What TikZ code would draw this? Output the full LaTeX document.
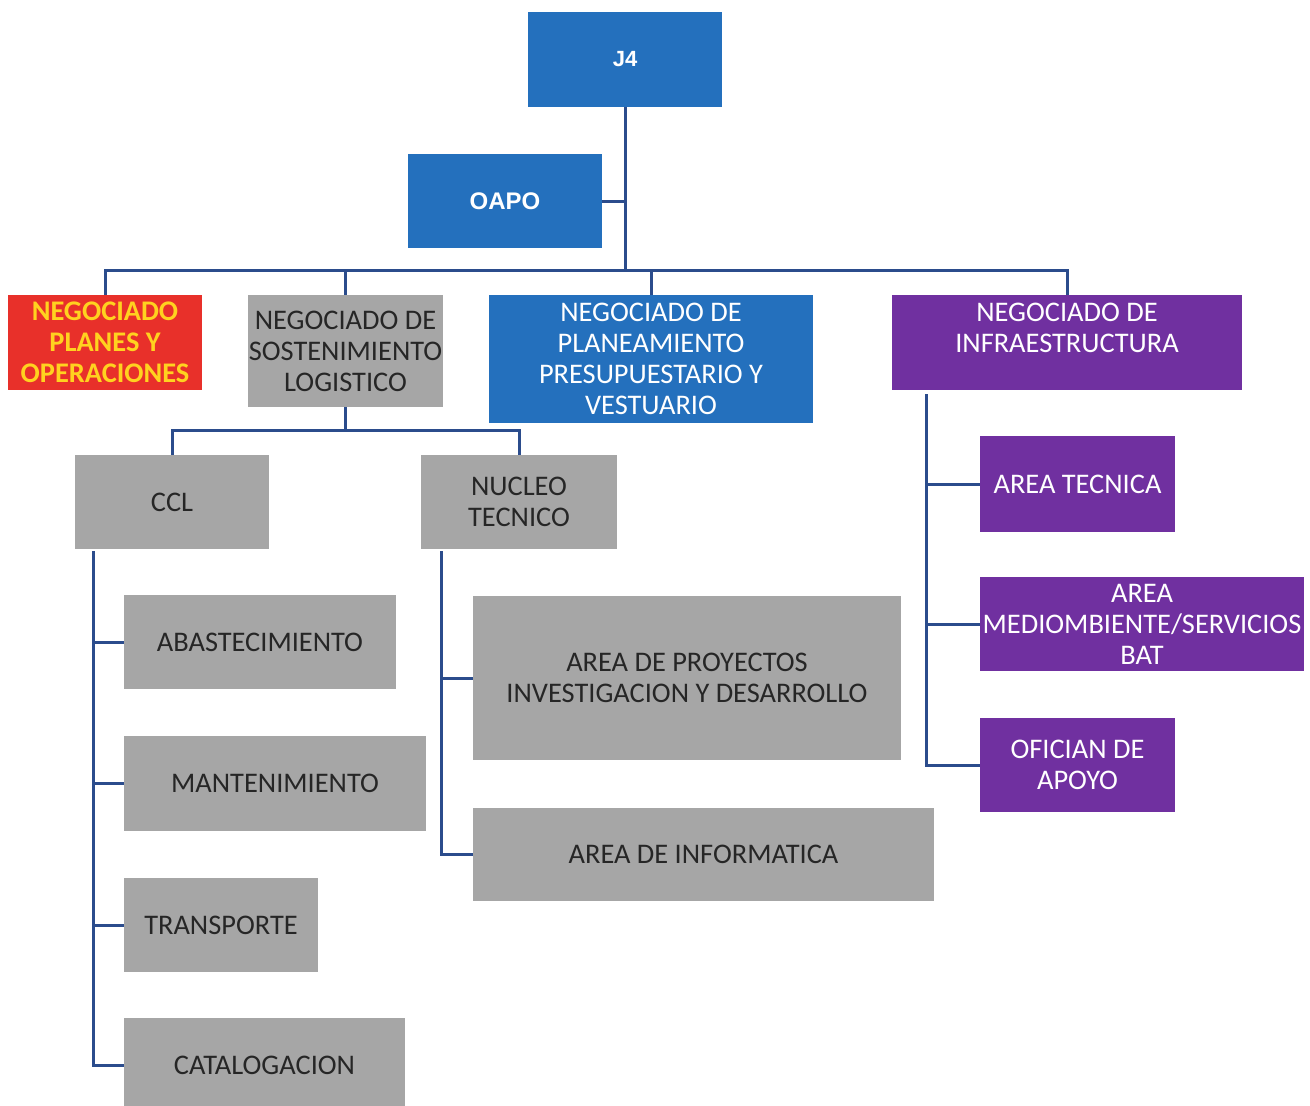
\documentclass[tikz,border=0pt]{standalone}
\usepackage{fontspec}
\setmainfont{Carlito}
\newfontfamily\arialfont{Liberation Sans}
\definecolor{obl}{HTML}{2470BD}
\definecolor{opu}{HTML}{7030A0}
\definecolor{ogr}{HTML}{A6A6A6}
\definecolor{ore}{HTML}{E8302A}
\definecolor{oye}{HTML}{FFD21F}
\definecolor{oln}{HTML}{2B4C8C}
\definecolor{otx}{HTML}{262626}
\tikzset{
  orgbox/.style={rectangle, inner sep=0pt, align=center, font=\fontsize{28.4}{31}\selectfont},
  bluebox/.style={orgbox, fill=obl, text=white},
  purplebox/.style={orgbox, fill=opu, text=white},
  graybox/.style={orgbox, fill=ogr, text=otx},
  redbox/.style={orgbox, fill=ore, text=oye, font=\fontsize{28.4}{31}\selectfont\bfseries},
  conn/.style={draw=oln, line width=3pt},
}
\begin{document}
\begin{tikzpicture}[x=1pt,y=-1pt]
\useasboundingbox (0,0) rectangle (1310,1106);
% top
\node[bluebox, minimum width=194pt, minimum height=95pt, font=\arialfont\bfseries\fontsize{22}{26}\selectfont] (j4) at (625,59.5) {J4};
\node[bluebox, minimum width=194pt, minimum height=94pt, font=\arialfont\bfseries\fontsize{24}{28}\selectfont] (oapo) at (505,201) {OAPO};
% level 2
\node[redbox, minimum width=194pt, minimum height=95pt] (npo) at (105,342.5) {NEGOCIADO\\PLANES Y\\OPERACIONES};
\node[graybox, minimum width=195pt, minimum height=112pt] (nsl) at (345.5,351) {NEGOCIADO DE\\SOSTENIMIENTO\\LOGISTICO};
\node[bluebox, minimum width=324pt, minimum height=128pt] (npp) at (651,359) {NEGOCIADO DE\\PLANEAMIENTO\\PRESUPUESTARIO Y\\VESTUARIO};
\node[purplebox, minimum width=350pt, minimum height=95pt] (ni) at (1067,342.5) {};
\node[orgbox, text=white] (nilabel) at (1067,327.5) {NEGOCIADO DE\\INFRAESTRUCTURA};
% level 3
\node[graybox, minimum width=194pt, minimum height=94pt] (ccl) at (172,502) {CCL};
\node[graybox, minimum width=196pt, minimum height=94pt] (nuc) at (519,502) {NUCLEO\\TECNICO};
% CCL children
\node[graybox, minimum width=272pt, minimum height=94pt] (abas) at (260,642) {ABASTECIMIENTO};
\node[graybox, minimum width=302pt, minimum height=95pt] (mant) at (275,783.5) {MANTENIMIENTO};
\node[graybox, minimum width=194pt, minimum height=94pt] (trans) at (221,925) {TRANSPORTE};
\node[graybox, minimum width=281pt, minimum height=94pt] (cat) at (264.5,1065) {CATALOGACION};
% Nucleo children
\node[graybox, minimum width=428pt, minimum height=164pt] (proy) at (687,678) {AREA DE PROYECTOS\\INVESTIGACION Y DESARROLLO};
\node[graybox, minimum width=461pt, minimum height=93pt] (inf) at (703.5,854.5) {AREA DE INFORMATICA};
% Infra children
\node[purplebox, minimum width=195pt, minimum height=96pt] (tec) at (1077.5,484) {AREA TECNICA};
\node[purplebox, minimum width=324pt, minimum height=94pt] (med) at (1142,624) {AREA\\MEDIOMBIENTE/SERVICIOS\\BAT};
\node[purplebox, minimum width=195pt, minimum height=94pt] (ofi) at (1077.5,765) {OFICIAN DE\\APOYO};
% connectors
\coordinate (hub) at (625,270);
\draw[conn] (j4.south) -- (hub);
\draw[conn] (oapo.east) -- (oapo.east -| hub);
\draw[conn] (npo.north) |- (hub) -| (ni.north);
\draw[conn] (nsl.north) -- (nsl.north |- hub);
\draw[conn] (npp.north) -- (npp.north |- hub);
\coordinate (h2) at (345.5,430);
\draw[conn] (nsl.south) -- (h2);
\draw[conn] (ccl.north) |- (h2) -| (nuc.north);
\coordinate (cclv) at (93,551);
\draw[conn] (cclv) |- (cat.west);
\draw[conn] (cclv |- abas.west) -- (abas.west);
\draw[conn] (cclv |- mant.west) -- (mant.west);
\draw[conn] (cclv |- trans.west) -- (trans.west);
\coordinate (nucv) at (441,551);
\draw[conn] (nucv) |- (inf.west);
\draw[conn] (nucv |- proy.west) -- (proy.west);
\coordinate (niv) at (926,394);
\draw[conn] (niv) |- (ofi.west);
\draw[conn] (niv |- tec.west) -- (tec.west);
\draw[conn] (niv |- med.west) -- (med.west);
\end{tikzpicture}
\end{document}
